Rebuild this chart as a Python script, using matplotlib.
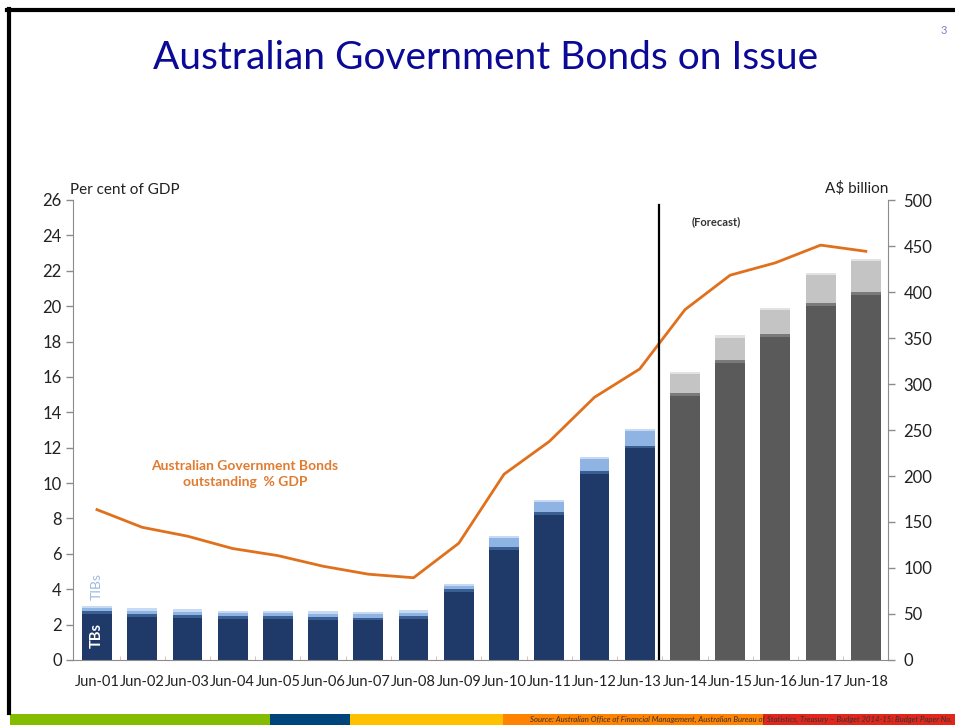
import matplotlib
matplotlib.use("Agg")
import matplotlib.pyplot as plt
from matplotlib.lines import Line2D
from matplotlib.patches import Rectangle
import numpy as np

plt.rcParams["font.family"] = ["Lato", "DejaVu Sans"]

# data
years = ["Jun-01", "Jun-02", "Jun-03", "Jun-04", "Jun-05", "Jun-06", "Jun-07", "Jun-08", "Jun-09",
         "Jun-10", "Jun-11", "Jun-12", "Jun-13", "Jun-14", "Jun-15", "Jun-16", "Jun-17", "Jun-18"]
tbs = [53, 50, 49, 47.5, 47.5, 47, 46, 48, 77, 123, 161, 205, 233, 290, 326, 354, 388, 400]   # A$ billion
tibs = [6, 6, 6, 6, 6, 6, 6, 6, 6, 12, 13, 16, 18, 23, 27, 29, 33, 36]                       # A$ billion
pct_gdp = [8.5, 7.5, 7.0, 6.3, 5.9, 5.3, 4.85, 4.65, 6.6, 10.5, 12.35, 14.85, 16.45,
           19.8, 21.75, 22.45, 23.45, 23.1]
n_actual = 13          # Jun-01 .. Jun-13 actual, rest forecast
forecast_split = 12.43

W, H = 955, 725
fig = plt.figure(figsize=(W / 100, H / 100), dpi=100)

def fx(px):
    return px / W

def fy(py):
    return 1 - py / H

ax = fig.add_axes([fx(73), fy(660), fx(888) - fx(73), fy(200) - fy(660)])
ax2 = ax.twinx()

x = np.arange(len(years))
bw = 0.66
tb_col = ["#1f3a68" if i < n_actual else "#5a5a5a" for i in x]
tb_hi = ["#3a5f93" if i < n_actual else "#7a7a7a" for i in x]
tib_col = ["#8fb4e3" if i < n_actual else "#c4c4c4" for i in x]
tib_hi = ["#c6dbf3" if i < n_actual else "#e2e2e2" for i in x]

tbs_a = np.array(tbs)
tibs_a = np.array(tibs)
ax2.bar(x, tbs_a, bw, color=tb_col, edgecolor="none", zorder=2)
ax2.bar(x, 3, bw, bottom=tbs_a - 3, color=tb_hi, edgecolor="none", zorder=3)
ax2.bar(x, tibs_a, bw, bottom=tbs_a, color=tib_col, edgecolor="none", zorder=2)
ax2.bar(x, 2.5, bw, bottom=tbs_a + tibs_a - 2.5, color=tib_hi, edgecolor="none", zorder=3)

ax.plot(x, pct_gdp, color="#e0701c", lw=2, zorder=5)
ax.plot([forecast_split, forecast_split], [0, 25.7], color="black", lw=1.6, zorder=6)

ax.set_zorder(ax2.get_zorder() + 1)
ax.patch.set_visible(False)

ax.set_xlim(-0.53, 17.49)
ax.set_ylim(0, 26)
ax2.set_ylim(0, 500)
ax.set_yticks(np.arange(0, 27, 2))
ax2.set_yticks(np.arange(0, 501, 50))
ax.set_xticks(x)
ax.set_xticklabels(years)
ax.set_xticks(x[:-1] + 0.5, minor=True)

for a in (ax, ax2):
    for s in a.spines.values():
        s.set_color("#8c8c8c")
    a.spines["top"].set_visible(False)
ax.spines["right"].set_visible(False)
ax2.spines["left"].set_visible(False)
ax2.spines["bottom"].set_visible(False)

ax.tick_params(axis="y", direction="out", length=5, width=1, color="#8c8c8c",
               labelsize=12, labelcolor="#222222", pad=3)
ax2.tick_params(axis="y", direction="out", length=5, width=1, color="#8c8c8c",
                labelsize=12, labelcolor="#222222", pad=6)
ax.tick_params(axis="x", which="major", length=0, labelsize=10.5, labelcolor="#222222", pad=11)
ax.tick_params(axis="x", which="minor", direction="in", length=3, color="#d8b4b4")

fig.text(fx(70), fy(197), "Per cent of GDP", fontsize=11, color="#222222", ha="left", va="bottom")
fig.text(fx(888), fy(196), "A$ billion", fontsize=11, color="#222222", ha="right", va="bottom")
fig.text(fx(716), fy(222), "(Forecast)", fontsize=8, fontweight="bold", color="#333333",
         ha="center", va="center")
fig.text(fx(245), fy(474), "Australian Government Bonds\noutstanding  % GDP", fontsize=10,
         fontweight="bold", color="#e07b30", ha="center", va="center", linespacing=1.35)
ax2.text(0, tbs[0] + tibs[0] + 6, "TIBs", rotation=90, fontsize=10, color="#9dbbe0",
         ha="center", va="bottom", zorder=7)
ax2.text(0, tbs[0] / 2, "TBs", rotation=90, fontsize=10.5, fontweight="bold", color="white",
         ha="center", va="center", zorder=7)

# slide decoration
fig.text(fx(486), fy(58), "Australian Government Bonds on Issue", fontsize=28, color="#0a0a96",
         ha="center", va="center")
fig.text(fx(944), fy(30), "3", fontsize=8, color="#7f7fbf", ha="center", va="center")
fig.add_artist(Line2D([fx(8.5), fx(8.5)], [fy(9), fy(713)], color="black", lw=3))
fig.add_artist(Line2D([fx(7), 1], [fy(9.5), fy(9.5)], color="black", lw=3))

strip = [(10, 270, "#84bd00"), (270, 350, "#00447c"), (350, 503, "#ffc000"),
         (503, 763, "#ff8200"), (763, 955, "#e1261c")]
for x0, x1, c in strip:
    fig.add_artist(Rectangle((fx(x0), 0), fx(x1) - fx(x0), fy(714), color=c, lw=0))
fig.text(fx(530), fy(719.5),
         "Source: Australian Office of Financial Management, Australian Bureau of Statistics, "
         "Treasury \u2013 Budget 2014-15: Budget Paper No.",
         fontsize=5.6, style="italic", color="#333333", ha="left", va="center")

fig.savefig("out.png", dpi=100)
